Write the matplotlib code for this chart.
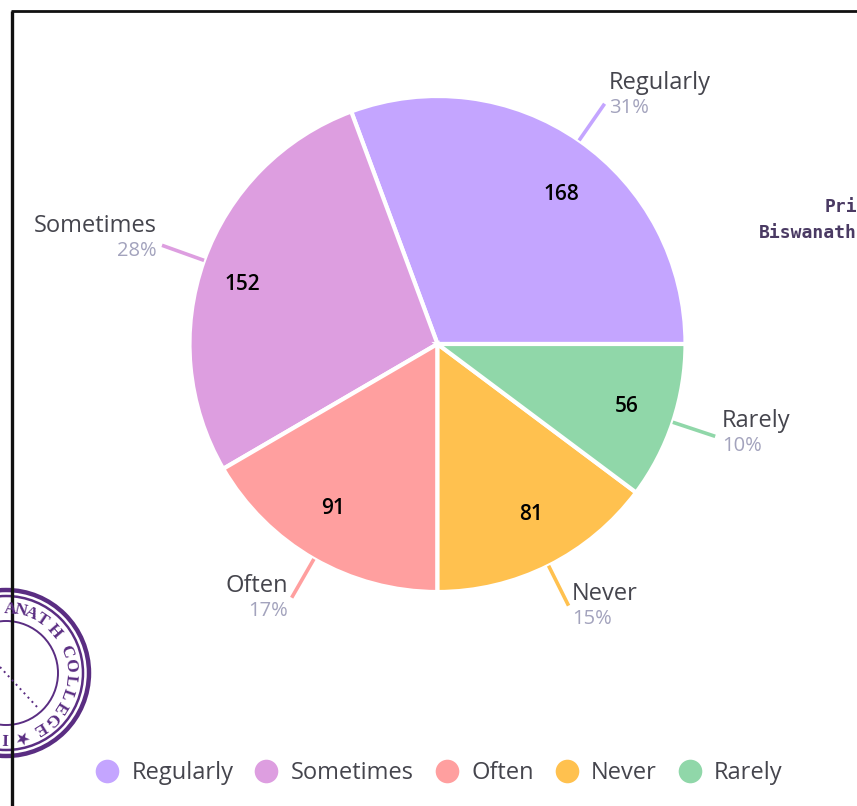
import numpy as np
import matplotlib
matplotlib.use("Agg")
import matplotlib.pyplot as plt
from matplotlib.lines import Line2D
from matplotlib.patches import Circle

categories = ["Regularly", "Sometimes", "Often", "Never", "Rarely"]
counts = [168, 152, 91, 81, 56]
percents = ["31%", "28%", "17%", "15%", "10%"]
colors = ["#c4a5ff", "#dd9ee0", "#ff9f9f", "#ffc14f", "#90d7a9"]

W, H = 857, 806
plt.rcParams["font.family"] = "Open Sans"
TEXT = "#45454d"
PCT = "#a3a3bd"
STAMP = "#5a2d82"


def fy(y):
    # picture pixels count from the top
    return H - y


fig = plt.figure(figsize=(W / 100, H / 100), dpi=100)
ax = fig.add_axes([0, 0, 1, 1])

cx, cy, r = 437.5, fy(344), 248
wedges, _ = ax.pie(counts, colors=colors, startangle=0, counterclock=True, center=(cx, cy), radius=r,
                   frame=True, wedgeprops=dict(edgecolor="white", linewidth=3))
ax.set_xlim(0, W)
ax.set_ylim(0, H)
ax.set_aspect("equal")
ax.axis("off")

# leader lines follow the middle of each slice
for w, c in zip(wedges, colors):
    t = np.deg2rad((w.theta1 + w.theta2) / 2)
    ax.plot([cx + r * 1.0 * np.cos(t), cx + r * 1.18 * np.cos(t)],
            [cy + r * 1.0 * np.sin(t), cy + r * 1.18 * np.sin(t)], color=c, lw=2.6, solid_capstyle="butt")

# value labels inside the slices
value_xy = [(561, 195), (242, 285), (333, 509), (531, 514), (627, 406)]
for v, (x, y) in zip(counts, value_xy):
    ax.text(x, fy(y), str(v), ha="center", va="center", fontsize=15, color="black", fontweight="semibold")

# outside labels: name on top, percent below
label_xy = [(609, 83, "left"), (157, 226, "right"), (288, 586, "right"), (572, 594, "left"), (722, 421, "left")]
for name, pct, (x, y, ha) in zip(categories, percents, label_xy):
    ax.text(x, fy(y), name, ha=ha, va="center", fontsize=17, color=TEXT)
    ax.text(x, fy(y + 25), pct, ha=ha, va="center", fontsize=14.5, color=PCT)

# legend
handles = [Line2D([], [], marker="o", linestyle="none", markersize=17, color=c, markeredgewidth=0) for c in colors]
ax.legend(handles, categories, loc="center", bbox_to_anchor=(436 / W, fy(773) / H), ncols=5, frameon=False,
          fontsize=17, labelcolor=TEXT, handletextpad=0.28, columnspacing=0.65, handlelength=1.5)

# page frame
ax.plot([12.5, 12.5], [0, fy(10.5)], color="#111111", lw=2.4, solid_capstyle="butt")
ax.plot([11.5, W], [fy(10.5), fy(10.5)], color="#111111", lw=2.0, solid_capstyle="butt")

# cut off signature text at the right edge
ax.text(857, fy(207), "Pri", ha="right", va="center", family="DejaVu Sans Mono", fontweight="bold",
        fontsize=13, color="#4a3a63")
ax.text(857, fy(233), "Biswanath", ha="right", va="center", family="DejaVu Sans Mono", fontweight="bold",
        fontsize=13, color="#4a3a63")

# college stamp in the lower left
sx, sy = 6, fy(673)
for rad, lw in [(83, 3.2), (77, 1.8), (52, 1.4)]:
    ax.add_patch(Circle((sx, sy), rad, fill=False, edgecolor=STAMP, linewidth=lw))
stamp_letters = ["A", "N", "A", "T", "H", "C", "O", "L", "L", "E", "G", "E", "★", "I"]
stamp_angles = [86, 77, 67, 56, 41, 20, 7, -6, -19, -32, -45, -58, -77, -91]
for ch, a in zip(stamp_letters, stamp_angles):
    t = np.deg2rad(a)
    ax.text(sx + 64 * np.cos(t), sy + 64 * np.sin(t), ch, rotation=a - 90, rotation_mode="anchor",
            ha="center", va="center", fontsize=12.5, family=["Liberation Serif", "DejaVu Sans"],
            fontweight="bold", color=STAMP)
ax.plot([0, 38], [fy(667), fy(708)], color=STAMP, lw=1.4, linestyle=(0, (1, 2)))

fig.savefig("out.png", dpi=100, facecolor="white")
